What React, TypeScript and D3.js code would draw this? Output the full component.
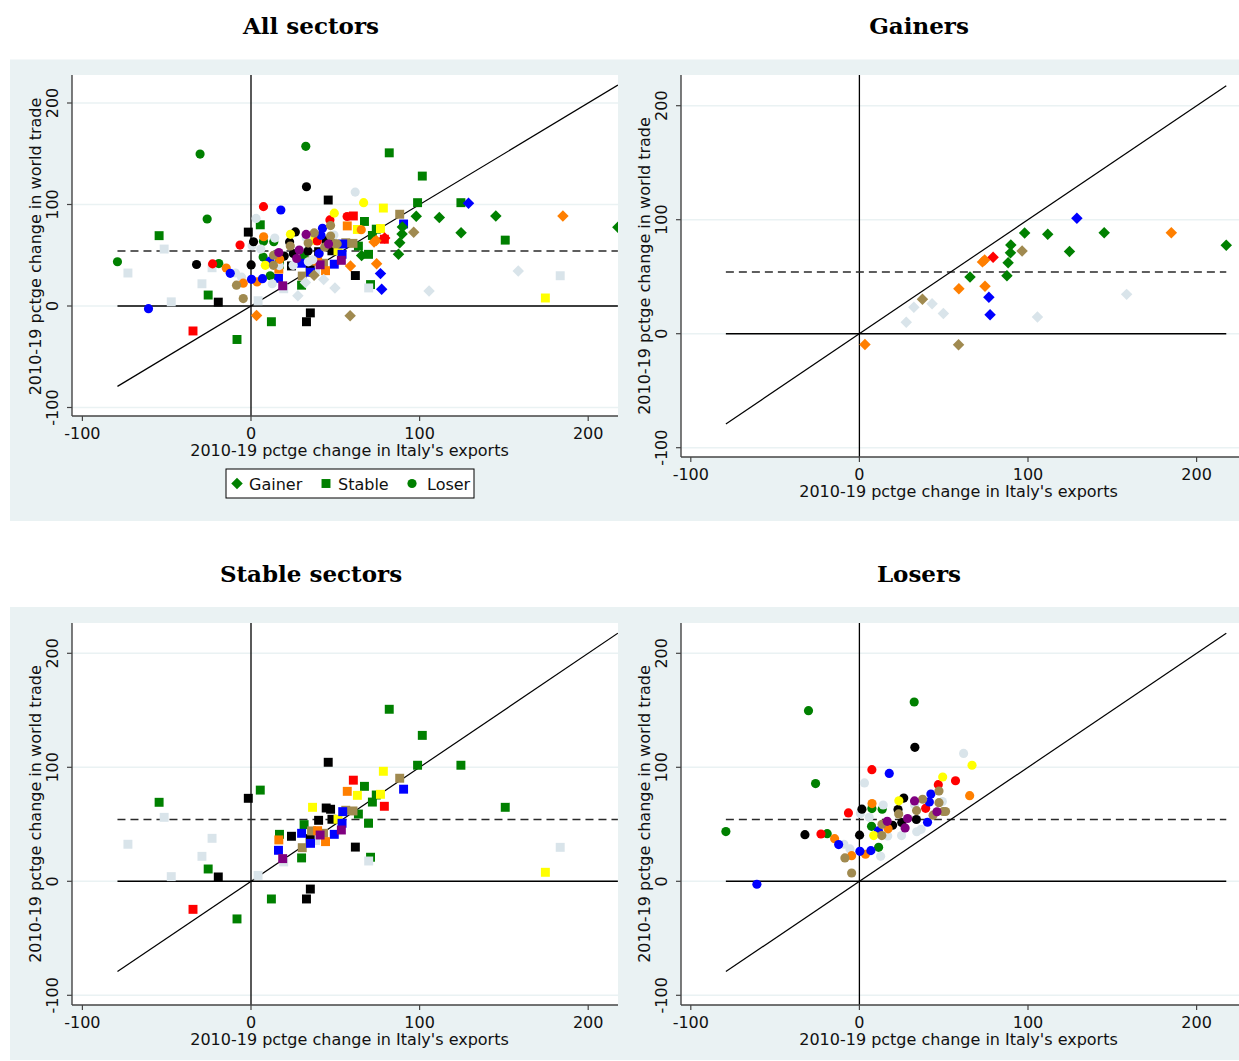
import React from 'react';
import * as d3 from 'd3';

// [Italy export change, world trade change, colour group]
type Pt = [number, number, string];

const gainers: Pt[] = [
  [3.3, -9.4, 'org'], [58.8, -9.7, 'olv'], [27.8, 10.1, 'gry'], [32.3, 23.1, 'gry'],
  [37.4, 30.3, 'olv'], [43.1, 26.2, 'gry'], [49.8, 17.7, 'gry'], [59.0, 39.4, 'org'],
  [65.6, 49.7, 'grn'], [74.5, 41.6, 'org'], [73.0, 63.0, 'org'], [74.3, 64.6, 'org'],
  [79.3, 67.0, 'red'], [76.8, 31.9, 'blu'], [77.5, 16.6, 'blu'], [87.5, 50.9, 'grn'],
  [88.2, 62.2, 'grn'], [89.6, 70.9, 'grn'], [89.8, 77.9, 'grn'], [96.5, 72.6, 'olv'],
  [98.0, 88.4, 'grn'], [105.6, 14.7, 'gry'], [111.7, 87.3, 'grn'], [124.6, 72.2, 'grn'],
  [129.0, 101.2, 'blu'], [145.2, 88.6, 'grn'], [158.5, 34.5, 'gry'], [185.0, 88.6, 'org'],
  [217.6, 77.5, 'grn'],
];

const stable: Pt[] = [
  [-54.5, 69.3, 'grn'], [-25.4, 10.8, 'grn'], [-8.3, -33.0, 'grn'], [5.5, 80.0, 'grn'],
  [12.1, -15.5, 'grn'], [82.0, 150.9, 'grn'], [101.6, 128.0, 'grn'], [98.8, 101.8, 'grn'],
  [124.5, 101.8, 'grn'], [150.8, 64.9, 'grn'], [67.3, 83.3, 'grn'], [74.3, 75.7, 'grn'],
  [72.0, 69.5, 'grn'], [63.7, 59.0, 'grn'], [69.7, 50.9, 'grn'], [31.5, 49.7, 'grn'],
  [16.9, 41.2, 'grn'], [30.0, 20.5, 'grn'], [70.9, 21.1, 'grn'],
  [-51.5, 56.1, 'gry'], [-73.0, 32.5, 'gry'], [-23.1, 37.7, 'gry'], [-29.1, 21.9, 'gry'],
  [-47.3, 4.1, 'gry'], [4.2, 5.2, 'gry'], [183.4, 29.8, 'gry'], [69.8, 17.8, 'gry'],
  [19.4, 17.0, 'gry'], [38.3, 35.7, 'gry'],
  [-19.4, 3.8, 'blk'], [-1.6, 72.8, 'blk'], [32.9, -15.5, 'blk'], [35.2, -6.8, 'blk'],
  [45.8, 104.4, 'blk'], [61.9, 30.0, 'blk'], [44.6, 64.3, 'blk'], [47.2, 63.2, 'blk'],
  [40.1, 53.5, 'blk'], [48.0, 54.4, 'blk'], [24.0, 39.5, 'blk'], [35.1, 37.4, 'blk'],
  [-34.4, -24.6, 'red'], [60.7, 88.7, 'red'], [79.1, 65.8, 'red'],
  [174.6, 7.9, 'yel'], [78.5, 96.5, 'yel'], [63.1, 75.4, 'yel'], [76.8, 76.3, 'yel'],
  [36.5, 64.9, 'yel'], [51.6, 54.4, 'yel'],
  [88.2, 90.4, 'olv'], [56.2, 62.3, 'olv'], [60.5, 61.7, 'olv'], [35.9, 44.2, 'olv'],
  [43.0, 42.1, 'olv'], [30.4, 29.5, 'olv'],
  [90.5, 80.8, 'blu'], [54.4, 61.1, 'blu'], [54.0, 50.9, 'blu'], [30.0, 42.1, 'blu'],
  [49.4, 41.2, 'blu'], [35.3, 33.3, 'blu'], [16.3, 27.2, 'blu'],
  [57.1, 78.9, 'org'], [16.5, 36.3, 'org'], [39.5, 44.4, 'org'], [44.2, 34.8, 'org'],
  [41.0, 40.6, 'pur'], [53.6, 45.0, 'pur'], [18.8, 19.9, 'pur'],
];

const losers: Pt[] = [
  [-79.2, 43.6, 'grn'], [-30.2, 149.7, 'grn'], [-26.0, 85.7, 'grn'], [-19.1, 41.8, 'grn'],
  [11.4, 29.8, 'grn'], [7.2, 48.2, 'grn'], [7.4, 63.8, 'grn'], [13.5, 63.3, 'grn'],
  [32.5, 157.3, 'grn'],
  [-9.2, 32.5, 'gry'], [-5.6, 28.4, 'gry'], [12.6, 21.9, 'gry'], [3.0, 86.3, 'gry'],
  [0.6, 59.4, 'gry'], [5.8, 56.1, 'gry'], [14.1, 66.9, 'gry'], [61.8, 112.2, 'gry'],
  [32.7, 67.2, 'gry'], [49.2, 69.9, 'gry'], [16.8, 39.8, 'gry'], [25.0, 40.1, 'gry'],
  [34.0, 43.5, 'gry'], [36.6, 45.6, 'gry'],
  [-32.3, 40.9, 'blk'], [1.5, 63.3, 'blk'], [0.1, 40.5, 'blk'], [32.9, 117.5, 'blk'],
  [26.3, 73.0, 'blk'], [22.9, 63.0, 'blk'], [33.8, 54.2, 'blk'], [25.1, 51.6, 'blk'],
  [19.7, 49.2, 'blk'],
  [-22.8, 41.5, 'red'], [-6.5, 60.0, 'red'], [7.4, 97.9, 'red'], [57.0, 88.2, 'red'],
  [46.8, 84.8, 'red'], [39.3, 64.0, 'red'],
  [-14.7, 37.4, 'org'], [-4.6, 22.5, 'org'], [3.6, 23.7, 'org'], [7.5, 68.2, 'org'],
  [65.4, 75.1, 'org'], [17.0, 46.0, 'org'],
  [-60.8, -2.6, 'blu'], [-12.3, 32.2, 'blu'], [0.3, 26.3, 'blu'], [6.8, 26.9, 'blu'],
  [17.7, 94.6, 'blu'], [42.4, 76.6, 'blu'], [40.4, 51.8, 'blu'], [11.3, 44.2, 'blu'],
  [41.5, 69.6, 'blu'],
  [66.8, 101.8, 'yel'], [49.4, 91.5, 'yel'], [23.4, 70.6, 'yel'], [8.5, 40.1, 'yel'],
  [-8.6, 20.5, 'olv'], [-4.6, 7.3, 'olv'], [47.2, 79.2, 'olv'], [37.5, 72.0, 'olv'],
  [33.9, 62.0, 'olv'], [47.2, 69.0, 'olv'], [49.7, 61.2, 'olv'], [51.1, 61.2, 'olv'],
  [43.7, 58.0, 'olv'], [23.3, 59.1, 'olv'], [13.4, 50.0, 'olv'], [13.3, 40.1, 'olv'],
  [32.7, 70.5, 'pur'], [28.6, 55.1, 'pur'], [27.1, 46.8, 'pur'], [16.5, 52.6, 'pur'],
  [46.0, 61.0, 'pur'],
];

const groupColours: Record<string, string> = {
  grn: '#008000', org: '#ff7f00', blu: '#0000ff', red: '#ff0000', blk: '#000000',
  yel: '#ffff00', pur: '#800080', olv: '#a08a50', gry: '#d9e4ea',
};

const xTicks = [-100, 0, 100, 200];
const yTicks = [-100, 0, 100, 200];
const worldAvg = 54.2;
const xTitle = "2010-19 pctge change in Italy's exports";
const yTitle = '2010-19 pctge change in world trade';
const legendItems = [
  { label: 'Gainer', shape: 'diamond' },
  { label: 'Stable', shape: 'square' },
  { label: 'Loser', shape: 'circle' },
];

const seriesOf: Record<string, { data: Pt[]; shape: string }> = {
  stable: { data: stable, shape: 'square' },
  losers: { data: losers, shape: 'circle' },
  gainers: { data: gainers, shape: 'diamond' },
};

const allX = [...gainers, ...stable, ...losers].map((d) => d[0]);
const [xMin, xMax] = d3.extent(allX) as [number, number];

const panels = [
  { id: 'all', title: 'All sectors', tx: 311, ty: 33.5, box: { l: 72, r: 618, t: 75, b: 416 },
    xr: [251, 419.6], yr: [306, 204.5], series: ['stable', 'losers', 'gainers'], legend: true, ytc: 246.5 },
  { id: 'gain', title: 'Gainers', tx: 919, ty: 33.5, box: { l: 681, r: 1239, t: 75, b: 457 },
    xr: [859.4, 1028], yr: [333.7, 219.7], series: ['gainers'], legend: false, ytc: 266 },
  { id: 'stab', title: 'Stable sectors', tx: 311, ty: 581.5, box: { l: 72, r: 618, t: 623, b: 1005 },
    xr: [251, 419.6], yr: [881.3, 767.3], series: ['stable'], legend: false, ytc: 814 },
  { id: 'lose', title: 'Losers', tx: 919, ty: 581.5, box: { l: 681, r: 1239, t: 623, b: 1005 },
    xr: [859.4, 1028], yr: [881.3, 767.3], series: ['losers'], legend: false, ytc: 814 },
];

const markerPath = (shape: string) => {
  if (shape === 'circle') return d3.symbol(d3.symbolCircle, 66)()!;
  if (shape === 'square') return d3.symbol(d3.symbolSquare, 80)()!;
  return d3.symbol(d3.symbolSquare, 66)()!;
};
const markerRot = (shape: string) => (shape === 'diamond' ? ' rotate(45)' : '');

const font = 'DejaVu Sans, sans-serif';

const Panel = ({ p }: { p: typeof panels[number] }) => {
  const x = d3.scaleLinear().domain([0, 100]).range(p.xr);
  const y = d3.scaleLinear().domain([0, 100]).range(p.yr);
  const { l, r, t, b } = p.box;
  const cx = l + 277.5;
  return (
    <g>
      <text x={p.tx} y={p.ty} textAnchor="middle" fontFamily="DejaVu Serif, serif" fontWeight="bold" fontSize={23}>
        {p.title}
      </text>
      <rect x={l} y={t} width={r - l} height={b - t} fill="#ffffff" />
      <clipPath id={'clip-' + p.id}>
        <rect x={l} y={t} width={r - l} height={b - t} />
      </clipPath>
      {yTicks.map((v) => (
        <line key={'g' + v} x1={l} x2={r} y1={y(v)} y2={y(v)} stroke="#eaf2f3" strokeWidth={1.5} />
      ))}
      <g clipPath={`url(#clip-${p.id})`}>
        <line x1={x(0)} x2={x(0)} y1={t} y2={b} stroke="#000" strokeWidth={1.3} />
        <line x1={x(xMin)} x2={x(xMax)} y1={y(0)} y2={y(0)} stroke="#000" strokeWidth={1.6} />
        <line x1={x(xMin)} x2={x(xMax)} y1={y(worldAvg)} y2={y(worldAvg)} stroke="#2a2a2a" strokeWidth={1.5} strokeDasharray="8,5" />
        <line x1={x(xMin)} x2={x(xMax)} y1={y(xMin)} y2={y(xMax)} stroke="#000" strokeWidth={1.2} />
        {p.series.map((s) => {
          const ser = seriesOf[s];
          const path = markerPath(ser.shape);
          return (
            <g key={s}>
              {ser.data.map((d, i) => (
                <path key={i} d={path} fill={groupColours[d[2]]}
                  transform={`translate(${x(d[0])},${y(d[1])})${markerRot(ser.shape)}`} />
              ))}
            </g>
          );
        })}
      </g>
      <line x1={l} x2={l} y1={t} y2={b} stroke="#444" strokeWidth={1.4} />
      <line x1={l} x2={r} y1={b} y2={b} stroke="#444" strokeWidth={1.4} />
      {yTicks.map((v) => (
        <g key={'yt' + v}>
          <line x1={l - 5} x2={l} y1={y(v)} y2={y(v)} stroke="#444" strokeWidth={1.2} />
          <text transform={`translate(${l - 13.7},${y(v)}) rotate(-90)`} textAnchor="middle"
            fontFamily={font} fontSize={16} fill="#111">{v}</text>
        </g>
      ))}
      {xTicks.map((v) => (
        <g key={'xt' + v}>
          <line x1={x(v)} x2={x(v)} y1={b} y2={b + 5} stroke="#444" strokeWidth={1.2} />
          <text x={x(v)} y={b + 22.5} textAnchor="middle" fontFamily={font} fontSize={16} fill="#111">{v}</text>
        </g>
      ))}
      <text x={cx} y={b + 40} textAnchor="middle" fontFamily={font} fontSize={16} fill="#111">{xTitle}</text>
      <text transform={`translate(${l - 31},${p.ytc}) rotate(-90)`} textAnchor="middle"
        fontFamily={font} fontSize={16} fill="#111">{yTitle}</text>
      {p.legend && (
        <g>
          <rect x={226} y={469} width={248} height={29} fill="#fff" stroke="#000" strokeWidth={1} />
          {legendItems.map((it, i) => {
            const mx = [237, 326, 412][i];
            return (
              <g key={it.label}>
                <path d={markerPath(it.shape)} fill={groupColours.grn}
                  transform={`translate(${mx},${483.5})${markerRot(it.shape)}`} />
                <text x={mx + (it.shape === 'circle' ? 15 : 12)} y={490} fontFamily={font} fontSize={16} fill="#111">{it.label}</text>
              </g>
            );
          })}
        </g>
      )}
    </g>
  );
};

export default function App() {
  return (
    <svg width={1239} height={1061} style={{ position: 'absolute', left: 0, top: 0, background: '#fff' }}>
      <rect x={10} y={59.5} width={1229} height={461.5} fill="#eaf2f3" />
      <rect x={10} y={607} width={1229} height={453} fill="#eaf2f3" />
      {panels.map((p) => (
        <Panel key={p.id} p={p} />
      ))}
    </svg>
  );
}
